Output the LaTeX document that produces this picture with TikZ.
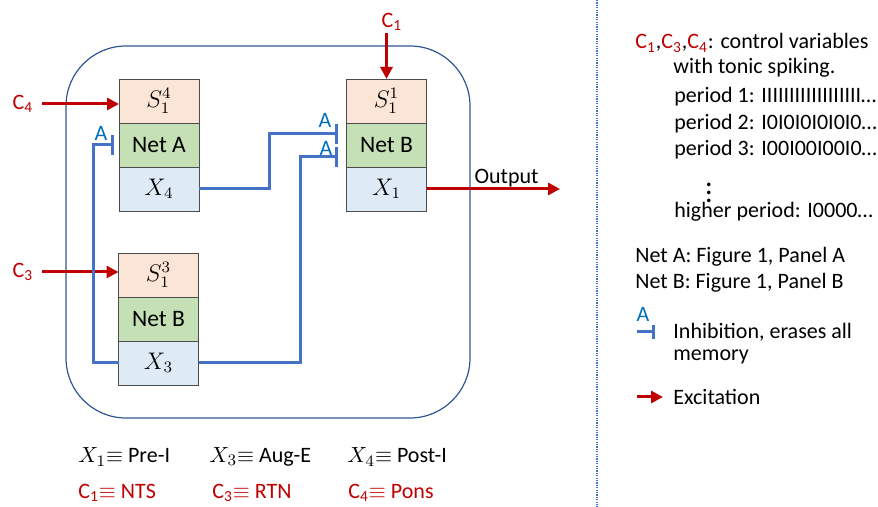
\documentclass[tikz,border=0pt]{standalone}
\usepackage{fontspec}
\setmainfont{Carlito}
\usepackage{tikz}
\usetikzlibrary{positioning, arrows.meta}

\definecolor{peach}{HTML}{FBE5D6}
\definecolor{leaf}{HTML}{C5E0B4}
\definecolor{sky}{HTML}{DEEBF7}
\definecolor{exred}{HTML}{C00000}
\definecolor{inhblue}{HTML}{4472C4}
\definecolor{lblblue}{HTML}{0070C0}
\definecolor{framblue}{HTML}{2F5597}

\newcommand{\cvar}[1]{\textcolor{exred}{C\textsubscript{#1}}}

\begin{document}
\begin{tikzpicture}[
			x=0.5pt, y=-0.5pt,
			font=\fontsize{11}{13}\selectfont,
			cell/.style={draw=black!70, thin, minimum width=40pt, minimum height=22pt, inner sep=0pt, outer sep=0pt, font=\fontsize{11.8}{14}\selectfont},
			sbox/.style={cell, fill=peach},
			netbox/.style={cell, fill=leaf},
			xbox/.style={cell, fill=sky},
			excite/.style={-{Triangle[length=6pt, width=6pt]}, line width=1.5pt, draw=exred},
			inhibit/.style={-{Bar[width=10pt]}, line width=1.5pt, draw=inhblue},
			alabel/.style={text=lblblue, inner sep=0pt},
			clabel/.style={text=exred, inner sep=1pt},
			groupbox/.style={draw=framblue, line width=0.6pt, rounded corners=30pt},
			divider/.style={draw=inhblue, line width=0.6pt, dash pattern=on 0.6pt off 0.6pt},
			legtext/.style={anchor=west, inner sep=0pt}
			]
			\useasboundingbox (0,0) rectangle (878,507);
			
			% Enclosing frame
			\draw[groupbox] (66,46) rectangle (470,418);
			
			% Top left block
			\node[sbox] (s4) at (159,101) {$S_1^4$};
			\node[netbox, below=0pt of s4] (neta) {Net A};
			\node[xbox, below=0pt of neta] (x4) {$X_4$};
			
			% Top right block
			\node[sbox] (s1) at (386.5,101) {$S_1^1$};
			\node[netbox, below=0pt of s1] (netb) {Net B};
			\node[xbox, below=0pt of netb] (x1) {$X_1$};
			
			% Bottom block
			\node[sbox] (s3) at (158.5,275) {$S_1^3$};
			\node[netbox, below=0pt of s3] (netc) {Net B};
			\node[xbox, below=0pt of netc] (x3) {$X_3$};
			
			% Control inputs
			\node[clabel] (c1) at (392,22) {C\textsubscript{1}};
			\node[clabel] (c4) at (23,104) {C\textsubscript{4}};
			\node[clabel] (c3) at (23,272) {C\textsubscript{3}};
			\draw[excite] (c1.south -| s1.north) -- (s1.north);
			\draw[excite, shorten <=3pt] (c4.east) -- (c4.east -| s4.west);
			\draw[excite, shorten <=3pt] (c3.east) -- (c3.east -| s3.west);
			
			% Output
			\coordinate (out) at (560,190);
			\draw[excite] (x1.east) -- (x1.east -| out) node[pos=0.6, above=0pt, inner sep=0pt] (outlbl) {Output};
			
			% Inhibitory links
			\coordinate (ib1) at (338,134);
			\coordinate (ib2) at (338,157);
			\coordinate (ib3) at (114,145);
			\draw[inhibit] (x4.east) -- ++(70,0) |- (ib1);
			\draw[inhibit] (x3.east) -- ++(102,0) |- (ib2);
			\draw[inhibit] (x3.west) -- ++(-25,0) |- (ib3);
			\node[alabel] (a1) at (325,120) {A};
			\node[alabel] (a2) at (326,148) {A};
			\node[alabel] (a3) at (101,133) {A};
			
			% Key below the frame
			\node[legtext] (lx1) at (78,457) {$X_1{\equiv}$ Pre-I};
			\node[legtext] (lx3) at (209,457) {$X_3{\equiv}$ Aug-E};
			\node[legtext] (lx4) at (347,457) {$X_4{\equiv}$ Post-I};
			\node[legtext, text=exred] (lc1) at (78,493) {C\textsubscript{1}$\equiv$ NTS};
			\node[legtext, text=exred] (lc3) at (212,493) {C\textsubscript{3}$\equiv$ RTN};
			\node[legtext, text=exred] (lc4) at (348,493) {C\textsubscript{4}$\equiv$ Pons};
			
			% Separator
			\draw[divider] (597,0) -- (597,507);
			
			% Notes on the right
			\node[legtext] (ctrl) at (635,43) {\cvar{1},\cvar{3},\cvar{4}: control variables};
			\node[legtext] (tonic) at (673,68) {with tonic spiking.};
			\node[legtext] (per1) at (674,97) {period 1: IIIIIIIIIIIIIIIIII…};
			\node[legtext] (per2) at (674,124) {period 2: I0I0I0I0I0I0…};
			\node[legtext] (per3) at (674,150) {period 3: I00I00I00I0…};
			\node[font=\fontsize{15}{17}\selectfont, inner sep=0pt] (vdots) at (709,187) {$\vdots$};
			\node[legtext] (perh) at (674,212) {higher period: I0000…};
			\node[legtext] (netatxt) at (635,257) {Net A: Figure 1, Panel A};
			\node[legtext] (netbtxt) at (635,283) {Net B: Figure 1, Panel B};
			
			% Legend symbols
			\coordinate (li0) at (637,332);
			\coordinate (li1) at (655,332);
			\draw[inhibit, -{Bar[width=7pt]}] (li0) -- (li1);
			\node[alabel] (la) at (643,314) {A};
			\node[legtext] (inh1) at (673,332) {Inhibition, erases all};
			\node[legtext] (inh2) at (673,357) {memory};
			\coordinate (le0) at (637,397);
			\coordinate (le1) at (663,397);
			\draw[excite] (le0) -- (le1);
			\node[legtext] (exc) at (673,397) {Excitation};
		\end{tikzpicture}
\end{document}
